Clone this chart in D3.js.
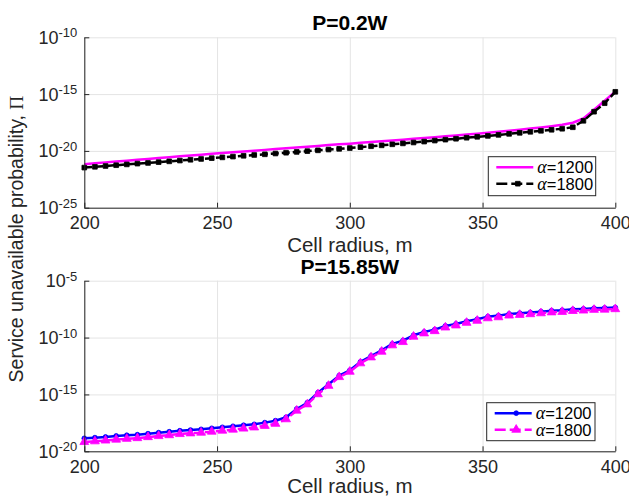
<!DOCTYPE html>
<html><head><meta charset="utf-8">
<script src="https://cdn.jsdelivr.net/npm/d3@7"></script>
<style>body{margin:0;background:#fff} svg{display:block}</style>
</head><body><svg id="c" width="629" height="498"></svg>
<script>
// ---------- data ----------
const radius = [200,204,208,212,216,220,224,228,232,236,240,244,248,252,256,260,264,268,272,276,
                280,284,288,292,296,300,304,308,312,316,320,324,328,332,336,340,344,348,352,356,
                360,364,368,372,376,380,384,388,392,396,400];
const xTicks = [200,250,300,350,400];
const topTitle = "P=0.2W";
const bottomTitle = "P=15.85W";
const xLabel = "Cell radius, m";
const yLabel = "Service unavailable probability, ";
const topYTicks = [-25,-20,-15,-10];      // log10 exponents
const bottomYTicks = [-20,-15,-10,-5];
const seriesNames = ["1200","1800"];
// log10 of probability, P=0.2W
const top1200 = [-21.17,-21.09,-21.01,-20.94,-20.86,-20.78,-20.71,-20.63,-20.56,-20.48,-20.41,-20.33,-20.26,-20.19,-20.12,-20.05,-19.98,-19.91,-19.84,-19.77,
                 -19.70,-19.63,-19.56,-19.49,-19.42,-19.36,-19.29,-19.22,-19.15,-19.08,-19.01,-18.94,-18.87,-18.80,-18.72,-18.64,-18.56,-18.48,-18.40,-18.31,
                 -18.22,-18.13,-18.03,-17.93,-17.82,-17.69,-17.52,-17.15,-16.38,-15.58,-14.78];
const top1800 = [-21.47,-21.40,-21.33,-21.26,-21.19,-21.12,-21.06,-20.99,-20.92,-20.85,-20.78,-20.71,-20.64,-20.57,-20.50,-20.43,-20.36,-20.30,-20.23,-20.16,
                 -20.09,-20.02,-19.95,-19.88,-19.82,-19.75,-19.67,-19.59,-19.51,-19.42,-19.34,-19.26,-19.18,-19.09,-19.01,-18.93,-18.84,-18.76,-18.68,-18.59,
                 -18.50,-18.41,-18.32,-18.23,-18.14,-18.05,-17.92,-17.35,-16.55,-15.80,-14.80];
// log10 of probability, P=15.85W
const bot1200 = [-18.86,-18.80,-18.74,-18.65,-18.59,-18.54,-18.45,-18.36,-18.28,-18.19,-18.13,-18.07,-17.98,-17.89,-17.80,-17.71,-17.63,-17.48,-17.31,-17.01,
                 -16.28,-15.73,-14.85,-14.11,-13.35,-12.88,-12.14,-11.62,-11.12,-10.56,-10.27,-9.80,-9.51,-9.30,-8.98,-8.80,-8.57,-8.39,-8.16,-8.07,
                 -7.92,-7.86,-7.80,-7.72,-7.64,-7.60,-7.52,-7.48,-7.42,-7.40,-7.36];
const bot1800 = [-19.18,-19.12,-19.05,-18.97,-18.90,-18.84,-18.75,-18.66,-18.58,-18.48,-18.42,-18.36,-18.27,-18.18,-18.09,-18.00,-17.90,-17.76,-17.58,-17.18,
                 -16.42,-15.87,-14.98,-14.24,-13.47,-13.00,-12.26,-11.74,-11.24,-10.68,-10.39,-9.92,-9.63,-9.43,-9.11,-8.93,-8.70,-8.52,-8.30,-8.21,
                 -8.06,-8.00,-7.94,-7.86,-7.78,-7.74,-7.66,-7.62,-7.56,-7.54,-7.50];

// ---------- drawing ----------
const svg = d3.select("#c");
const FONT = "Liberation Sans, Arial, Helvetica, sans-serif";
const AX = "#262626";
svg.append("rect").attr("width",629).attr("height",498).attr("fill","#fff");

const x = d3.scaleLinear().domain([200,400]).range([84.3,615.3]);

function panel(cfg){
  const y = d3.scaleLog().domain([10**cfg.yTicks[0], 10**cfg.yTicks[cfg.yTicks.length-1]])
              .range([cfg.bottom, cfg.top]);
  const g = svg.append("g");
  const h = cfg.bottom - cfg.top, w = x.range()[1]-x.range()[0];
  // grid
  g.append("g").attr("transform",`translate(0,${cfg.bottom})`)
    .call(d3.axisBottom(x).tickValues(xTicks).tickSize(-h).tickFormat(""))
    .call(a=>{a.select(".domain").remove(); a.selectAll("line").attr("stroke","#e4e4e4").attr("stroke-width",1);});
  g.append("g").attr("transform",`translate(${x.range()[0]},0)`)
    .call(d3.axisLeft(y).tickValues(cfg.yTicks.map(e=>10**e)).tickSize(-w).tickFormat(""))
    .call(a=>{a.select(".domain").remove(); a.selectAll("line").attr("stroke","#e4e4e4").attr("stroke-width",1);});

  // series
  cfg.series.forEach(s=>{
    const pts = radius.map((r,i)=>[x(r), y(10**s.values[i])]);
    g.append("path").attr("d", d3.line()(pts)).attr("fill","none")
      .attr("stroke", s.color).attr("stroke-width", 2.5)
      .attr("stroke-dasharray", s.dash || null).attr("stroke-linejoin","round");
    if (s.marker){
      g.append("g").selectAll("path").data(pts).join("path")
        .attr("transform", d=>`translate(${d[0]},${d[1]})`)
        .attr("d", d3.symbol().type(s.marker).size(s.msize)())
        .attr("fill", s.color).attr("stroke", s.color).attr("stroke-width", 0.8);
    }
  });

  // axes
  const xa = g.append("g").attr("transform",`translate(0,${cfg.bottom})`)
    .call(d3.axisBottom(x).tickValues(xTicks).tickSizeInner(-5).tickSizeOuter(0).tickPadding(8.5));
  xa.select(".domain").attr("stroke",AX);
  xa.selectAll("line").attr("stroke",AX);
  xa.selectAll("text").attr("fill",AX).attr("font-size",18).attr("font-family",FONT);

  const ya = g.append("g").attr("transform",`translate(${x.range()[0]},0)`)
    .call(d3.axisLeft(y).tickValues(cfg.yTicks.map(e=>10**e)).tickSizeInner(-5).tickSizeOuter(0).tickPadding(7).tickFormat(""));
  ya.select(".domain").attr("stroke",AX);
  ya.selectAll("line").attr("stroke",AX);
  ya.selectAll("text").each(function(d){
    const t = d3.select(this).attr("fill",AX).attr("font-family",FONT).attr("dy",null).attr("y",0);
    t.text("");
    const e = Math.round(Math.log10(d));
    t.append("tspan").attr("font-size",18).attr("dy",6).text("10");
    t.append("tspan").attr("font-size",13).attr("dy",-6.5).text(String(e));
  });
  ya.attr("text-anchor","end");

  // title
  svg.append("text").attr("x", (x.range()[0]+x.range()[1])/2).attr("y", cfg.titleY)
    .attr("text-anchor","middle").attr("font-family",FONT).attr("font-weight","bold")
    .attr("font-size",21).attr("fill","#000").text(cfg.title);
  // x label
  svg.append("text").attr("x", (x.range()[0]+x.range()[1])/2).attr("y", cfg.xLabelY)
    .attr("text-anchor","middle").attr("font-family",FONT)
    .attr("font-size",20.5).attr("fill",AX).text(xLabel);

  // legend
  const L = cfg.legend;
  const lg = svg.append("g");
  lg.append("rect").attr("x",L.x).attr("y",L.y).attr("width",L.w).attr("height",L.h)
    .attr("fill","#fff").attr("stroke",AX).attr("stroke-width",1);
  cfg.series.forEach((s,i)=>{
    const ry = L.y + 10.5 + i*16.5;
    const x0 = L.x + 8, x1 = L.x + 45;
    lg.append("line").attr("x1",x0).attr("x2",x1).attr("y1",ry).attr("y2",ry)
      .attr("stroke",s.color).attr("stroke-width",2.5).attr("stroke-dasharray", s.dash ? "11,4" : null);
    if (s.marker){
      lg.append("path").attr("transform",`translate(${(x0+x1)/2+3},${ry})`)
        .attr("d", d3.symbol().type(s.marker).size(s.msize)())
        .attr("fill",s.color).attr("stroke",s.color).attr("stroke-width",0.8);
    }
    const t = lg.append("text").attr("x", L.x + 49).attr("y", ry + 6)
      .attr("font-family",FONT).attr("font-size",16.5).attr("fill","#000");
    t.append("tspan").attr("font-family","Liberation Serif, DejaVu Serif, serif").attr("font-style","italic")
      .attr("font-size",18).text("\u03B1");
    t.append("tspan").text("=" + seriesNames[i]);
  });
}

panel({
  top: 37.3, bottom: 207.7, yTicks: topYTicks, title: topTitle, titleY: 30, xLabelY: 251.5,
  series: [
    {values: top1200, color:"#ff00ff"},
    {values: top1800, color:"#000000", dash:"8,3", marker: d3.symbolSquare, msize: 22}
  ],
  legend: {x: 488.3, y: 156.7, w: 107.4, h: 39}
});
panel({
  top: 280.7, bottom: 451.3, yTicks: bottomYTicks, title: bottomTitle, titleY: 273.5, xLabelY: 493,
  series: [
    {values: bot1200, color:"#0000ff", marker: d3.symbolCircle, msize: 18},
    {values: bot1800, color:"#ff00ff", dash:"8,3", marker: d3.symbolTriangle, msize: 34}
  ],
  legend: {x: 486.7, y: 402.7, w: 108.3, h: 38}
});

// shared y label
const yl = svg.append("text").attr("transform","translate(23,239) rotate(-90)")
  .attr("text-anchor","middle").attr("font-family",FONT).attr("font-size",19.5).attr("fill",AX);
yl.append("tspan").text(yLabel);
yl.append("tspan").attr("font-family","Liberation Serif, DejaVu Serif, serif").text("\u03A0");
</script>
</body></html>
